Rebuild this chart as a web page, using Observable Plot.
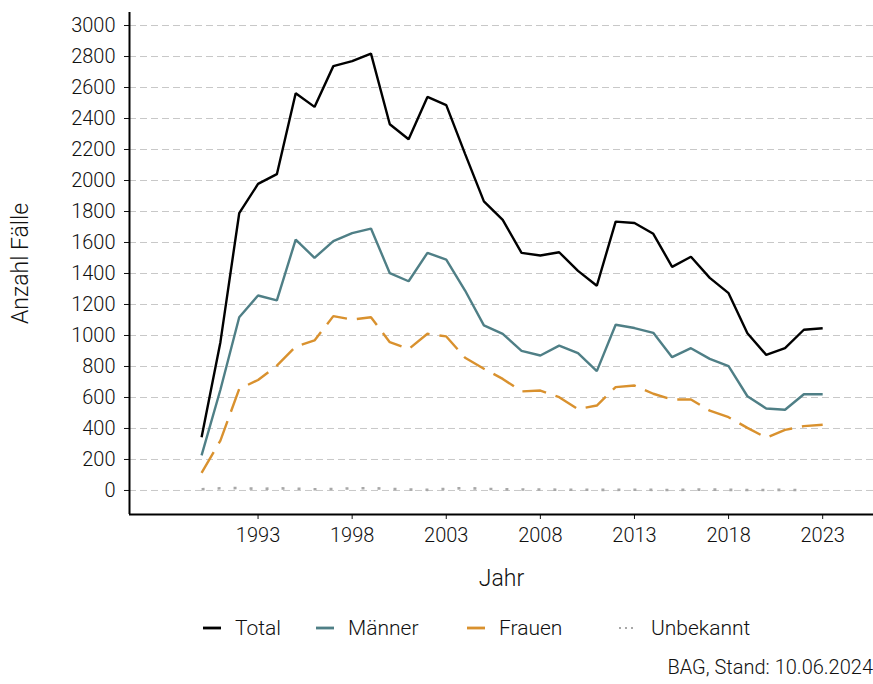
<!DOCTYPE html>
<html>
<head>
<meta charset="utf-8">
<script src="https://cdn.jsdelivr.net/npm/d3@7"></script>
<script src="https://cdn.jsdelivr.net/npm/@observablehq/plot@0.6"></script>
<style>
  html, body { margin: 0; padding: 0; background: #fff; }
  body { width: 873px; height: 684px; position: relative; overflow: hidden;
         font-family: Roboto, "DejaVu Sans Condensed", sans-serif; font-weight: 300; color: #111; }
  #chart svg { display: block; }
  #legend { position: absolute; top: 615px; left: 0; width: 873px; height: 26px; }
  .item { position: absolute; top: 0; display: flex; align-items: center; font-size: 21px; height: 26px; }
  .item svg { margin-right: 14px; }
  #caption { position: absolute; top: 655px; right: 0; font-size: 20px; }
</style>
</head>
<body>
<div id="chart"></div>
<div id="legend"></div>
<div id="caption">BAG, Stand: 10.06.2024</div>
<script>
const years = [1990,1991,1992,1993,1994,1995,1996,1997,1998,1999,2000,2001,2002,2003,2004,2005,2006,2007,2008,2009,2010,2011,2012,2013,2014,2015,2016,2017,2018,2019,2020,2021,2022,2023];
const total = [344,957,1789,1978,2041,2563,2475,2738,2770,2819,2363,2266,2539,2486,2172,1865,1746,1533,1516,1537,1417,1321,1735,1726,1656,1443,1508,1372,1273,1015,875,918,1037,1047];
const maenner = [226,650,1118,1258,1226,1619,1501,1609,1660,1690,1402,1350,1533,1490,1290,1065,1011,901,871,935,886,770,1069,1048,1017,860,918,849,802,608,529,521,621,621];
const frauen = [114,322,655,713,805,929,968,1125,1103,1118,957,912,1011,994,856,785,720,639,645,602,525,548,667,677,624,587,587,515,473,404,340,391,415,424];
const unbekannt = [8,14,16,10,14,12,8,10,14,15,10,6,4,10,16,10,8,6,6,5,5,4,4,5,4,3,5,6,4,3,3,4,3,null];
const seriesNames = ["Total","Männer","Frauen","Unbekannt"];
const seriesValues = [total, maenner, frauen, unbekannt];
const seriesColors = ["#000000","#4f7f86","#d9912e","#a8a8a8"];
const seriesDash = [null, null, "24,10", "3,13"];
const seriesWidth = [2.4, 2.4, 2.4, 2.6];
const yTicks = [0,200,400,600,800,1000,1200,1400,1600,1800,2000,2200,2400,2600,2800,3000];
const xTicks = [1993,1998,2003,2008,2013,2018,2023];

const rows = [];
seriesNames.forEach((name, i) => {
  years.forEach((yr, j) => {
    const v = seriesValues[i][j];
    if (v != null) rows.push({series: name, year: yr, value: v});
  });
});

const xDomain = [1986.17, 2025.7];
const yDomain = [-155, 3084];
const font = 'Roboto, "DejaVu Sans Condensed", sans-serif';

const marks = [
  Plot.ruleY(yTicks, {stroke: "#c8c8c8", strokeWidth: 1, strokeDasharray: "7,4"}),
];
seriesNames.slice().reverse().forEach((name) => {
  const i = seriesNames.indexOf(name);
  marks.push(Plot.line(rows.filter(d => d.series === name), {
    x: "year", y: "value", stroke: seriesColors[i], strokeWidth: seriesWidth[i],
    strokeDasharray: seriesDash[i], strokeLinejoin: "miter", strokeLinecap: "butt"
  }));
});
marks.push(
  Plot.axisY({ticks: yTicks, tickSize: 5, tickPadding: 9, tickFormat: d => String(d), fontSize: 20, label: null}),
  Plot.axisX({ticks: xTicks, tickSize: 5, tickPadding: 8, tickFormat: d => String(d), fontSize: 20, label: null}),
  Plot.ruleX([xDomain[0]], {stroke: "#000", strokeWidth: 2}),
  Plot.ruleY([yDomain[0]], {stroke: "#000", strokeWidth: 2}),
  Plot.text(["Jahr"], {frameAnchor: "bottom", dy: 71, fontSize: 23, fill: "#111"}),
  Plot.text(["Anzahl Fälle"], {frameAnchor: "left", textAnchor: "middle", dx: -109, rotate: -90, fontSize: 23, fill: "#111"})
);

const chart = Plot.plot({
  width: 873,
  height: 600,
  marginLeft: 129,
  marginRight: 0,
  marginTop: 12,
  marginBottom: 86,
  style: {fontFamily: font, fontWeight: 300, color: "#111", fontSize: "20px", overflow: "visible"},
  x: {domain: xDomain},
  y: {domain: yDomain},
  marks
});
document.getElementById("chart").appendChild(chart);

const legendLeft = [203, 316, 467, 619];
const legend = document.getElementById("legend");
seriesNames.forEach((name, i) => {
  const div = document.createElement("div");
  div.className = "item";
  div.style.left = legendLeft[i] + "px";
  const dash = i === 3 ? ` stroke-dasharray="2,4"` : "";
  div.innerHTML = `<svg width="18" height="6"><line x1="0" y1="3" x2="18" y2="3" stroke="${seriesColors[i]}" stroke-width="${i===3?2:2.8}"${dash}/></svg><span>${name}</span>`;
  legend.appendChild(div);
});
</script>
</body>
</html>
